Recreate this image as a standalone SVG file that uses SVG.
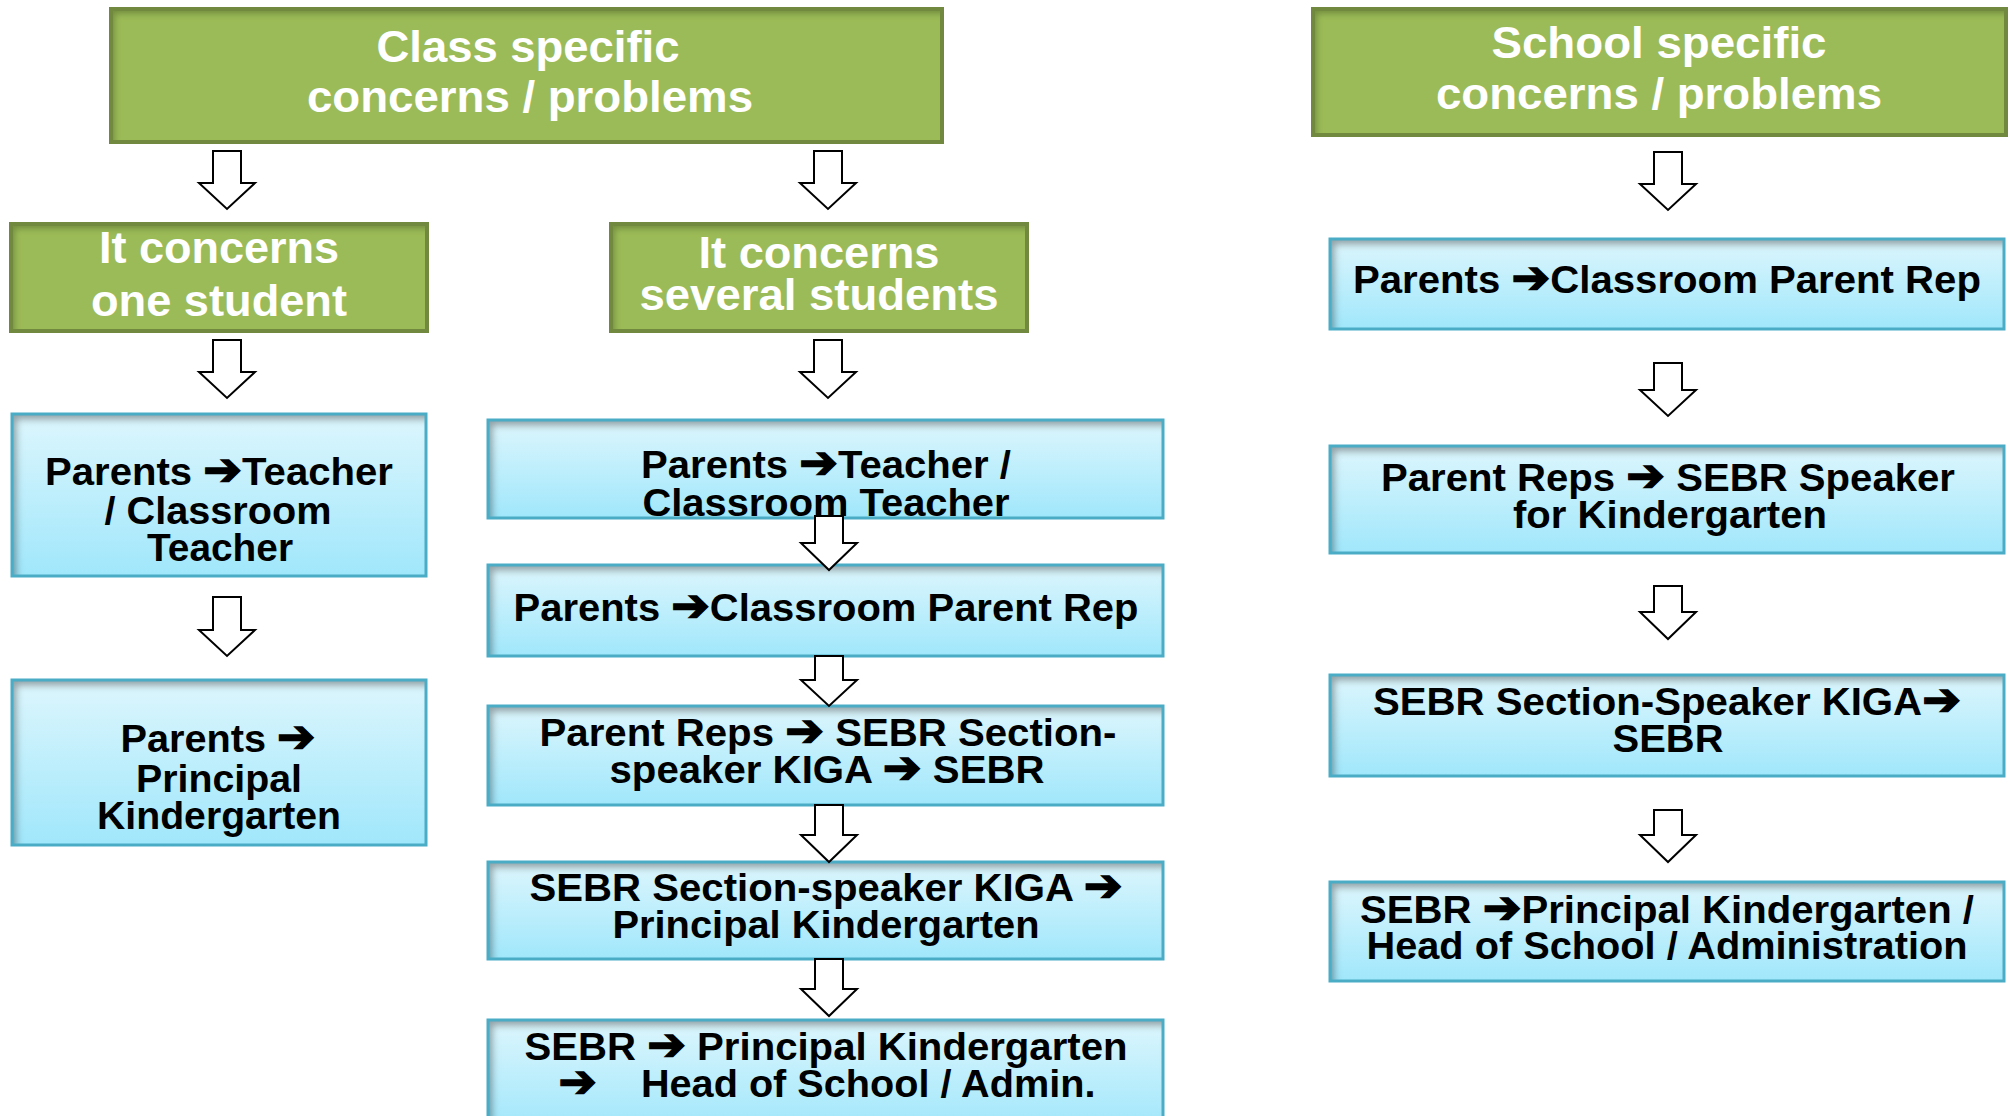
<svg xmlns="http://www.w3.org/2000/svg" width="2010" height="1116" viewBox="0 0 2010 1116">
<defs>
  <linearGradient id="blueGrad" x1="0" y1="0" x2="0" y2="1">
    <stop offset="0" stop-color="#DDF6FD"/>
    <stop offset="1" stop-color="#A0E7FB"/>
  </linearGradient>
  <filter id="inset" x="-10%" y="-20%" width="120%" height="140%">
    <feComponentTransfer in="SourceAlpha" result="inv">
      <feFuncA type="table" tableValues="1 0"/>
    </feComponentTransfer>
    <feGaussianBlur in="inv" stdDeviation="3.5"/>
    <feOffset dx="5" dy="6" result="blur"/>
    <feFlood flood-color="#000" flood-opacity="0.6"/>
    <feComposite in2="blur" operator="in"/>
    <feComposite in2="SourceAlpha" operator="in" result="shadow"/>
    <feMerge><feMergeNode in="SourceGraphic"/><feMergeNode in="shadow"/></feMerge>
  </filter>
  <filter id="insetG" x="-10%" y="-20%" width="120%" height="140%">
    <feComponentTransfer in="SourceAlpha" result="inv">
      <feFuncA type="table" tableValues="1 0"/>
    </feComponentTransfer>
    <feGaussianBlur in="inv" stdDeviation="3"/>
    <feOffset dx="4" dy="5" result="blur"/>
    <feFlood flood-color="#3d5217" flood-opacity="0.55"/>
    <feComposite in2="blur" operator="in"/>
    <feComposite in2="SourceAlpha" operator="in" result="shadow"/>
    <feMerge><feMergeNode in="SourceGraphic"/><feMergeNode in="shadow"/></feMerge>
  </filter>
</defs>
<style>
  .gfill { fill: #9BBB59; filter: url(#insetG); }
  .gline { fill: none; stroke: #71893F; stroke-width: 4; }
  .bfill { fill: url(#blueGrad); filter: url(#inset); }
  .bline { fill: none; stroke: #4BACC6; stroke-width: 3; }
  .gt { font-family: "Liberation Sans", Arial, "DejaVu Sans", sans-serif; font-weight: bold; font-size: 45px; fill: #FFFFFF; text-anchor: middle; }
  .bt { font-family: "Liberation Sans", Arial, "DejaVu Sans", sans-serif; font-weight: bold; font-size: 39px; fill: #000000; text-anchor: middle; }
  .ar { font-family: "DejaVu Sans", sans-serif; font-weight: bold; font-size: 45px; stroke: #000000; stroke-width: 1.6; stroke-linejoin: miter; }
  .arr { fill: #FFFFFF; stroke: #000000; stroke-width: 2; stroke-linejoin: miter; }
</style>
<rect width="2010" height="1116" fill="#FFFFFF"/>

<g id="class-specific">
  <rect class="gfill" x="111" y="9" width="831" height="133"/>
  <rect class="gline" x="111" y="9" width="831" height="133"/>
  <text class="gt" x="528" y="62" textLength="303" lengthAdjust="spacingAndGlyphs">Class specific</text>
  <text class="gt" x="530" y="112" textLength="446" lengthAdjust="spacingAndGlyphs">concerns / problems</text>
</g>

<g id="school-specific">
  <rect class="gfill" x="1313" y="9" width="693" height="126"/>
  <rect class="gline" x="1313" y="9" width="693" height="126"/>
  <text class="gt" x="1659" y="58" textLength="335" lengthAdjust="spacingAndGlyphs">School specific</text>
  <text class="gt" x="1659" y="109" textLength="446" lengthAdjust="spacingAndGlyphs">concerns / problems</text>
</g>

<g id="one-student">
  <rect class="gfill" x="11" y="224" width="416" height="107"/>
  <rect class="gline" x="11" y="224" width="416" height="107"/>
  <text class="gt" x="219" y="263" textLength="240" lengthAdjust="spacingAndGlyphs">It concerns</text>
  <text class="gt" x="219" y="316" textLength="256" lengthAdjust="spacingAndGlyphs">one student</text>
</g>

<g id="several-students">
  <rect class="gfill" x="611" y="224" width="416" height="107"/>
  <rect class="gline" x="611" y="224" width="416" height="107"/>
  <text class="gt" x="819" y="268" textLength="241" lengthAdjust="spacingAndGlyphs">It concerns</text>
  <text class="gt" x="819" y="310" textLength="359" lengthAdjust="spacingAndGlyphs">several students</text>
</g>

<g id="l1">
  <rect class="bfill" x="12" y="414" width="414" height="162"/>
  <rect class="bline" x="12" y="414" width="414" height="162"/>
  <text class="bt" x="219" y="485" textLength="348" lengthAdjust="spacingAndGlyphs">Parents <tspan class="ar">➔</tspan>Teacher</text>
  <text class="bt" x="218" y="524" textLength="227" lengthAdjust="spacingAndGlyphs">/ Classroom</text>
  <text class="bt" x="220" y="561" textLength="146" lengthAdjust="spacingAndGlyphs">Teacher</text>
</g>

<g id="l2">
  <rect class="bfill" x="12" y="680" width="414" height="165"/>
  <rect class="bline" x="12" y="680" width="414" height="165"/>
  <text class="bt" x="218" y="752" textLength="195" lengthAdjust="spacingAndGlyphs">Parents <tspan class="ar">➔</tspan></text>
  <text class="bt" x="219" y="792" textLength="166" lengthAdjust="spacingAndGlyphs">Principal</text>
  <text class="bt" x="219" y="829" textLength="244" lengthAdjust="spacingAndGlyphs">Kindergarten</text>
</g>

<g id="m1">
  <rect class="bfill" x="488" y="420" width="675" height="98"/>
  <rect class="bline" x="488" y="420" width="675" height="98"/>
  <text class="bt" x="826" y="478" textLength="370" lengthAdjust="spacingAndGlyphs">Parents <tspan class="ar">➔</tspan>Teacher /</text>
  <text class="bt" x="826" y="516" textLength="367" lengthAdjust="spacingAndGlyphs">Classroom Teacher</text>
</g>

<g id="m2">
  <rect class="bfill" x="488" y="565" width="675" height="91"/>
  <rect class="bline" x="488" y="565" width="675" height="91"/>
  <text class="bt" x="826" y="621" textLength="625" lengthAdjust="spacingAndGlyphs">Parents <tspan class="ar">➔</tspan>Classroom Parent Rep</text>
</g>

<g id="m3">
  <rect class="bfill" x="488" y="706" width="675" height="99"/>
  <rect class="bline" x="488" y="706" width="675" height="99"/>
  <text class="bt" x="828" y="746" textLength="577" lengthAdjust="spacingAndGlyphs">Parent Reps <tspan class="ar">➔</tspan> SEBR Section-</text>
  <text class="bt" x="827" y="783" textLength="435" lengthAdjust="spacingAndGlyphs">speaker KIGA <tspan class="ar">➔</tspan> SEBR</text>
</g>

<g id="m4">
  <rect class="bfill" x="488" y="862" width="675" height="97"/>
  <rect class="bline" x="488" y="862" width="675" height="97"/>
  <text class="bt" x="826" y="901" textLength="593" lengthAdjust="spacingAndGlyphs">SEBR Section-speaker KIGA <tspan class="ar">➔</tspan></text>
  <text class="bt" x="826" y="938" textLength="427" lengthAdjust="spacingAndGlyphs">Principal Kindergarten</text>
</g>

<g id="m5">
  <rect class="bfill" x="488" y="1020" width="675" height="110"/>
  <rect class="bline" x="488" y="1020" width="675" height="110"/>
  <text class="bt" x="826" y="1060" textLength="603" lengthAdjust="spacingAndGlyphs">SEBR <tspan class="ar">➔</tspan> Principal Kindergarten</text>
  <text class="bt" x="827" y="1097" textLength="537" lengthAdjust="spacingAndGlyphs" xml:space="preserve" style="white-space:pre"><tspan class="ar">➔</tspan>    Head of School / Admin.</text>
</g>

<g id="r1">
  <rect class="bfill" x="1330" y="239" width="674" height="90"/>
  <rect class="bline" x="1330" y="239" width="674" height="90"/>
  <text class="bt" x="1667" y="293" textLength="628" lengthAdjust="spacingAndGlyphs">Parents <tspan class="ar">➔</tspan>Classroom Parent Rep</text>
</g>

<g id="r2">
  <rect class="bfill" x="1330" y="446" width="674" height="107"/>
  <rect class="bline" x="1330" y="446" width="674" height="107"/>
  <text class="bt" x="1668" y="491" textLength="574" lengthAdjust="spacingAndGlyphs">Parent Reps <tspan class="ar">➔</tspan> SEBR Speaker</text>
  <text class="bt" x="1670" y="528" textLength="314" lengthAdjust="spacingAndGlyphs">for Kindergarten</text>
</g>

<g id="r3">
  <rect class="bfill" x="1330" y="675" width="674" height="101"/>
  <rect class="bline" x="1330" y="675" width="674" height="101"/>
  <text class="bt" x="1667" y="715" textLength="588" lengthAdjust="spacingAndGlyphs">SEBR Section-Speaker KIGA<tspan class="ar">➔</tspan></text>
  <text class="bt" x="1668" y="752" textLength="111" lengthAdjust="spacingAndGlyphs">SEBR</text>
</g>

<g id="r4">
  <rect class="bfill" x="1330" y="882" width="674" height="99"/>
  <rect class="bline" x="1330" y="882" width="674" height="99"/>
  <text class="bt" x="1667" y="923" textLength="614" lengthAdjust="spacingAndGlyphs">SEBR <tspan class="ar">➔</tspan>Principal Kindergarten /</text>
  <text class="bt" x="1667" y="959" textLength="601" lengthAdjust="spacingAndGlyphs">Head of School / Administration</text>
</g>

<g id="connectors">
  <polygon class="arr" points="213,151 241,151 241,183 255,183 227,209 199,183 213,183"/>
  <polygon class="arr" points="213,340 241,340 241,372 255,372 227,398 199,372 213,372"/>
  <polygon class="arr" points="213,597 241,597 241,630 255,630 227,656 199,630 213,630"/>

  <polygon class="arr" points="814,151 842,151 842,183 856,183 828,209 800,183 814,183"/>
  <polygon class="arr" points="814,340 842,340 842,372 856,372 828,398 800,372 814,372"/>
  <polygon class="arr" points="815,516 843,516 843,543 857,543 829,570 801,543 815,543"/>
  <polygon class="arr" points="815,656 843,656 843,680 857,680 829,706 801,680 815,680"/>
  <polygon class="arr" points="815,805 843,805 843,835 857,835 829,862 801,835 815,835"/>
  <polygon class="arr" points="815,959 843,959 843,989 857,989 829,1016 801,989 815,989"/>

  <polygon class="arr" points="1654,152 1682,152 1682,184 1696,184 1668,210 1640,184 1654,184"/>
  <polygon class="arr" points="1654,363 1682,363 1682,390 1696,390 1668,416 1640,390 1654,390"/>
  <polygon class="arr" points="1654,586 1682,586 1682,612 1696,612 1668,639 1640,612 1654,612"/>
  <polygon class="arr" points="1654,810 1682,810 1682,835 1696,835 1668,862 1640,835 1654,835"/>
</g>
</svg>
